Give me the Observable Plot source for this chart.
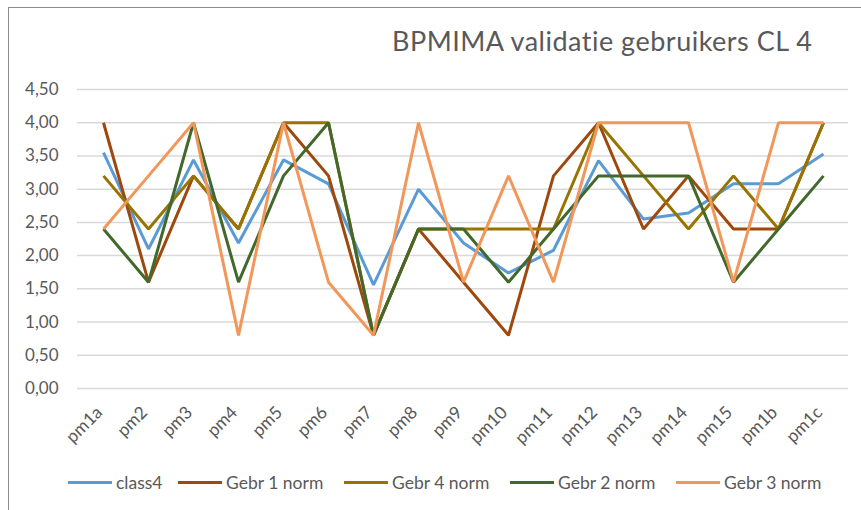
<!DOCTYPE html>
<html><head><meta charset="utf-8">
<script src="https://cdn.jsdelivr.net/npm/d3@7"></script>
<script src="https://cdn.jsdelivr.net/npm/@observablehq/plot@0.6"></script>
<style>
body{margin:0;background:#fff;}
#wrap{position:relative;width:861px;height:510px;overflow:hidden;font-family:Lato,"Open Sans",sans-serif;background:#fff;}
#border{position:absolute;left:8px;top:7px;width:900px;height:600px;border-left:1px solid #8c8c8c;border-top:1px solid #8c8c8c;}
#title{position:absolute;left:392px;top:24px;font-size:27px;letter-spacing:0.5px;color:#595959;white-space:nowrap;}
#chart{position:absolute;left:0;top:0;}
.leg{position:absolute;top:472px;display:flex;align-items:center;font-size:17.5px;color:#595959;white-space:nowrap;}
.sw{width:44px;height:3px;margin-right:4px;}
</style>
</head><body>
<div id="wrap">
  <div id="border"></div>
  <div id="chart"></div>
  <div id="title">BPMIMA validatie gebruikers CL 4</div>
  <div id="legend"></div>
</div>
<script>
const categories = ["pm1a","pm2","pm3","pm4","pm5","pm6","pm7","pm8","pm9","pm10","pm11","pm12","pm13","pm14","pm15","pm1b","pm1c"];
const seriesNames = ["class4","Gebr 1 norm","Gebr 4 norm","Gebr 2 norm","Gebr 3 norm"];
const seriesColors = ["#5B9BD5","#9E480E","#997300","#43682B","#F1975A"];
const class4 = [3.55,2.10,3.44,2.19,3.44,3.08,1.56,3.00,2.19,1.74,2.08,3.43,2.55,2.64,3.08,3.08,3.53];
const gebr1 = [4.0,1.6,3.2,2.4,4.0,3.2,0.8,2.4,1.6,0.8,3.2,4.0,2.4,3.2,2.4,2.4,4.0];
const gebr4 = [3.2,2.4,3.2,2.4,4.0,4.0,0.8,2.4,2.4,2.4,2.4,4.0,3.2,2.4,3.2,2.4,4.0];
const gebr2 = [2.4,1.6,4.0,1.6,3.2,4.0,0.8,2.4,2.4,1.6,2.4,3.2,3.2,3.2,1.6,2.4,3.2];
const gebr3 = [2.4,3.2,4.0,0.8,4.0,1.6,0.8,4.0,1.6,3.2,1.6,4.0,4.0,4.0,1.6,4.0,4.0];
const yTicks = [0,0.5,1,1.5,2,2.5,3,3.5,4,4.5];

const seriesValues = [class4, gebr1, gebr4, gebr2, gebr3];
const data = [];
seriesNames.forEach((s, i) => {
  categories.forEach((c, j) => data.push({series: s, cat: c, value: seriesValues[i][j]}));
});

const fmt = d => d.toFixed(2).replace(".", ",");

const chart = Plot.plot({
  width: 861,
  height: 510,
  marginTop: 89,
  marginBottom: 122,
  marginLeft: 77,
  marginRight: 13,
  style: {fontFamily: "Lato, 'Open Sans', sans-serif", color: "#595959", background: "transparent"},
  x: {type: "point", domain: categories, padding: 0.5},
  y: {domain: [0, 4.5]},
  color: {domain: seriesNames, range: seriesColors},
  marks: [
    Plot.ruleY(yTicks, {stroke: "#d9d9d9", strokeWidth: 1.5}),
    Plot.axisY({ticks: yTicks, tickSize: 0, tickPadding: 19, tickFormat: fmt, fontSize: 17, label: null}),
    Plot.axisX({tickSize: 0, tickRotate: -45, tickPadding: 21, dx: -4, fontSize: 17.5, label: null}),
    Plot.line(data, {x: "cat", y: "value", z: "series", stroke: "series", strokeWidth: 3, strokeLinejoin: "miter", strokeLinecap: "butt"})
  ]
});
document.getElementById("chart").appendChild(chart);

const lefts = [68, 178, 344, 510, 676];
const leg = document.getElementById("legend");
seriesNames.forEach((s, i) => {
  const d = document.createElement("div");
  d.className = "leg";
  d.style.left = lefts[i] + "px";
  d.innerHTML = `<div class="sw" style="background:${seriesColors[i]}"></div><span>${s}</span>`;
  leg.appendChild(d);
});
</script>
</body></html>
